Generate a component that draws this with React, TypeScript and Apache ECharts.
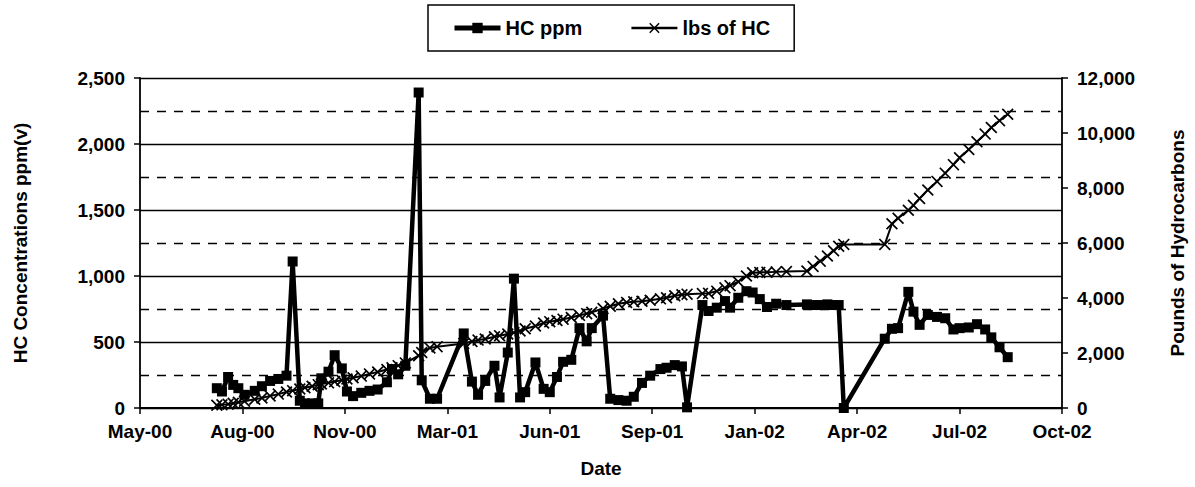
import React, { useEffect, useRef } from "react";
import * as echarts from "echarts";

// Sampling dates (shared by both series)
const sampleDates = [
  "2000-07-26","2000-07-31","2000-08-06","2000-08-11","2000-08-16","2000-08-22","2000-09-01","2000-09-08","2000-09-16","2000-09-24",
  "2000-10-02","2000-10-08","2000-10-15","2000-10-20","2000-10-27","2000-11-02","2000-11-05","2000-11-12","2000-11-18","2000-11-25",
  "2000-11-30","2000-12-06","2000-12-14","2000-12-22","2000-12-30","2001-01-08","2001-01-13","2001-01-19","2001-01-26","2001-02-08",
  "2001-02-11","2001-02-19","2001-02-26","2001-03-24","2001-04-01","2001-04-07","2001-04-14","2001-04-23","2001-04-28","2001-05-06",
  "2001-05-12","2001-05-18","2001-05-23","2001-06-02","2001-06-10","2001-06-16","2001-06-23","2001-06-29","2001-07-07","2001-07-15",
  "2001-07-22","2001-07-27","2001-08-07","2001-08-14","2001-08-22","2001-08-30","2001-09-06","2001-09-14","2001-09-22","2001-10-02",
  "2001-10-08","2001-10-16","2001-10-23","2001-10-28","2001-11-12","2001-11-18","2001-11-26","2001-12-04","2001-12-09","2001-12-17",
  "2001-12-25","2001-12-31","2002-01-07","2002-01-14","2002-01-23","2002-02-02","2002-02-22","2002-02-28","2002-03-07","2002-03-14",
  "2002-03-20","2002-03-25","2002-03-30","2002-05-09","2002-05-16","2002-05-22","2002-06-01","2002-06-06","2002-06-12","2002-06-20",
  "2002-06-29","2002-07-07","2002-07-15","2002-07-21","2002-07-30","2002-08-07","2002-08-15","2002-08-21","2002-08-29","2002-09-06",
];

// HC concentration, ppm(v)
const hcPpm = [
  150, 125, 235, 175, 150, 100, 130, 165, 205, 220,
  245, 1110, 55, 35, 35, 35, 225, 275, 400, 300,
  125, 90, 115, 130, 140, 195, 295, 255, 320, 2390,
  210, 70, 70, 565, 200, 100, 205, 320, 80, 420,
  980, 80, 120, 345, 145, 120, 235, 350, 365, 605,
  505, 605, 700, 70, 60, 55, 85, 190, 245, 295,
  305, 325, 315, 5, 780, 735, 760, 810, 760, 835,
  885, 875, 825, 765, 790, 780, 785, 780, 780, 785,
  780, 780, 0, 525, 600, 605, 880, 730, 630, 705,
  690, 680, 595, 605, 610, 635, 595, 535, 460, 385,
];

// Cumulative pounds of HC
const lbsHc = [
  100, 115, 140, 170, 210, 245, 320, 365, 440, 505,
  580, 630, 690, 740, 790, 850, 875, 915, 960, 1010,
  1055, 1100, 1160, 1240, 1310, 1400, 1460, 1540, 1640, 1900,
  2020, 2185, 2230, 2345, 2420, 2470, 2510, 2590, 2630, 2690,
  2740, 2800, 2880, 2980, 3090, 3140, 3180, 3230, 3290, 3370,
  3430, 3480, 3620, 3700, 3790, 3840, 3860, 3880, 3920, 3970,
  4010, 4080, 4120, 4140, 4160, 4170, 4250, 4370, 4450, 4590,
  4800, 4920, 4930, 4940, 4950, 4960, 4980, 5150, 5340, 5530,
  5720, 5880, 5950, 5950, 6700, 6900, 7190, 7370, 7620, 7930,
  8240, 8540, 8850, 9100, 9400, 9680, 9960, 10200, 10450, 10680,
];

// Tick labels
const xTickLabels = ["May-00","Aug-00","Nov-00","Mar-01","Jun-01","Sep-01","Jan-02","Apr-02","Jul-02","Oct-02"];
const leftTickLabels = ["0","500","1,000","1,500","2,000","2,500"];
const rightTickLabels = ["0","2,000","4,000","6,000","8,000","10,000","12,000"];

// Date axis: days counted from 12 May 2000, ticks every 100 days
const AXIS_START = Date.UTC(2000, 4, 12);
const DAY_MS = 86400000;
const toDay = (s: string) => {
  const [y, m, d] = s.split("-").map(Number);
  return (Date.UTC(y, m - 1, d) - AXIS_START) / DAY_MS;
};

const FONT = "'Liberation Sans', Arial, Helvetica, sans-serif";
const X_SYMBOL = "path://M0,1L1,0L5,4L9,0L10,1L6,5L10,9L9,10L5,6L1,10L0,9L4,5Z";

const labelStyle = { fontSize: 19, fontWeight: "bold" as const, color: "#000", fontFamily: FONT };

export default function App() {
  const ref = useRef<HTMLDivElement>(null);
  useEffect(() => {
    if (!ref.current) return;
    const chart = echarts.init(ref.current, null, { renderer: "svg" });
    const xs = sampleDates.map(toDay);
    chart.setOption({
      animation: false,
      backgroundColor: "#fff",
      textStyle: { fontFamily: FONT },
      legend: {
        left: 428,
        top: 5,
        padding: [13, 24, 13, 24],
        itemGap: 48,
        itemWidth: 46,
        itemHeight: 13,
        borderColor: "#000",
        borderWidth: 1.5,
        backgroundColor: "#fff",
        textStyle: { ...labelStyle, fontSize: 20 },
        data: [
          { name: "HC ppm", lineStyle: { width: 5 } },
          { name: "lbs of HC", lineStyle: { width: 2.5 } },
        ],
      },
      grid: { left: 140, right: 133, top: 78, bottom: 79 },
      xAxis: {
        type: "value",
        min: 0,
        max: 900,
        interval: 100,
        axisLine: { show: true, lineStyle: { color: "#000", width: 1.8 } },
        axisTick: { show: true, length: 6, lineStyle: { color: "#000", width: 1.5 } },
        axisLabel: {
          ...labelStyle,
          margin: 14,
          formatter: (v: number) => xTickLabels[Math.round(v / 100)] ?? "",
        },
        splitLine: { show: false },
        name: "Date",
        nameLocation: "middle",
        nameGap: 51,
        nameTextStyle: { ...labelStyle },
      },
      yAxis: [
        {
          type: "value",
          min: 0,
          max: 2500,
          interval: 500,
          axisLine: { show: true, lineStyle: { color: "#000", width: 1.8 } },
          axisTick: { show: true, length: 6, lineStyle: { color: "#000", width: 1.5 } },
          axisLabel: {
            ...labelStyle,
            margin: 15,
            formatter: (v: number) => leftTickLabels[Math.round(v / 500)] ?? "",
          },
          splitLine: { show: true, lineStyle: { color: "#000", width: 1.4 } },
          minorTick: { show: false, splitNumber: 2 },
          minorSplitLine: { show: true, lineStyle: { color: "#000", width: 1.4, type: [9, 8] } },
          name: "HC Concentrations ppm(v)",
          nameLocation: "middle",
          nameGap: 110,
          nameRotate: 90,
          nameTextStyle: { ...labelStyle },
        },
        {
          type: "value",
          position: "right",
          min: 0,
          max: 12000,
          interval: 2000,
          axisLine: { show: true, lineStyle: { color: "#000", width: 1.8 } },
          axisTick: { show: true, length: 6, lineStyle: { color: "#000", width: 1.5 } },
          axisLabel: {
            ...labelStyle,
            margin: 15,
            formatter: (v: number) => rightTickLabels[Math.round(v / 2000)] ?? "",
          },
          splitLine: { show: false },
          name: "Pounds of Hydrocarbons",
          nameLocation: "middle",
          nameGap: 106,
          nameRotate: 90,
          nameTextStyle: { ...labelStyle },
        },
      ],
      series: [
        {
          name: "HC ppm",
          type: "line",
          yAxisIndex: 0,
          data: xs.map((x, i) => [x, hcPpm[i]]),
          symbol: "rect",
          symbolSize: 10,
          lineStyle: { color: "#000", width: 4.5 },
          itemStyle: { color: "#000" },
          z: 2,
        },
        {
          name: "lbs of HC",
          type: "line",
          yAxisIndex: 1,
          data: xs.map((x, i) => [x, lbsHc[i]]),
          symbol: X_SYMBOL,
          symbolSize: 12,
          lineStyle: { color: "#000", width: 2 },
          itemStyle: { color: "#000" },
          z: 3,
        },
      ],
    });
    return () => chart.dispose();
  }, []);
  return (
    <div
      ref={ref}
      style={{ position: "fixed", left: 0, top: 0, width: 1195, height: 487, background: "#fff" }}
    />
  );
}
